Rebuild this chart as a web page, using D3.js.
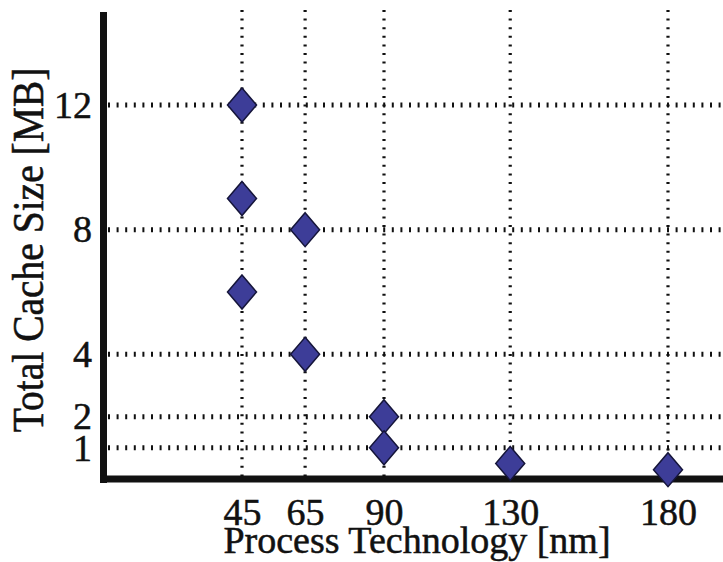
<!DOCTYPE html>
<html><head><meta charset="utf-8">
<script src="https://cdn.jsdelivr.net/npm/d3@7"></script>
<style>html,body{margin:0;padding:0;background:#fff;}svg{display:block;}</style>
</head><body>
<svg id="chart" width="723" height="562"></svg>
<script>
const processNm = [45, 45, 45, 65, 65, 90, 90, 130, 180];
const cacheMB   = [12, 9, 6, 8, 4, 2, 1, 0.5, 0.3];
const xTicks = [45, 65, 90, 130, 180];
const yTicks = [1, 2, 4, 8, 12];
const xTitle = "Process Technology [nm]";
const yTitle = "Total Cache Size [MB]";

const svg = d3.select("#chart");
const W = 723, H = 562;
const x = d3.scaleLinear().domain([0, 180]).range([100, 668]);
const y = d3.scaleLinear().domain([0, 12]).range([479, 105]);
const font = "'Liberation Serif','Times New Roman',serif";

// grid lines
svg.append("g").selectAll("line").data(xTicks).join("line")
  .attr("x1", d => x(d)).attr("x2", d => x(d))
  .attr("y1", 10).attr("y2", 476)
  .attr("stroke", "#111").attr("stroke-width", 3.2)
  .attr("stroke-dasharray", "2,6.6");
svg.append("g").selectAll("line").data(yTicks).join("line")
  .attr("x1", 108).attr("x2", W)
  .attr("y1", d => y(d)).attr("y2", d => y(d))
  .attr("stroke", "#111").attr("stroke-width", 5)
  .attr("stroke-dasharray", "2,6.6");

// axes
const xAxis = d3.axisBottom(x).tickValues(xTicks).tickSize(0).tickPadding(19);
const gx = svg.append("g").attr("transform", `translate(0,${y(0)})`).call(xAxis);
gx.select(".domain").remove();
gx.selectAll("text").attr("font-family", font).attr("font-size", 38)
  .attr("fill", "#111").attr("stroke", "#111").attr("stroke-width", 0.5);

const yAxis = d3.axisLeft(y).tickValues(yTicks).tickSize(0).tickPadding(8);
const gy = svg.append("g").attr("transform", `translate(${x(0)},0)`).call(yAxis);
gy.select(".domain").remove();
gy.selectAll("text").attr("font-family", font).attr("font-size", 38)
  .attr("fill", "#111").attr("stroke", "#111").attr("stroke-width", 0.5);

svg.append("line").attr("x1", 103.5).attr("x2", 103.5).attr("y1", 12).attr("y2", 483)
  .attr("stroke", "#111").attr("stroke-width", 7);
svg.append("line").attr("x1", 100).attr("x2", W).attr("y1", 479).attr("y2", 479)
  .attr("stroke", "#111").attr("stroke-width", 7);

// diamonds
const diamond = {
  draw(ctx, size) {
    const hw = 14.5, hh = 17;
    ctx.moveTo(0, -hh); ctx.lineTo(hw, 0); ctx.lineTo(0, hh); ctx.lineTo(-hw, 0); ctx.closePath();
  }
};
const pts = processNm.map((p, i) => ({p, c: cacheMB[i]}));
svg.append("g").selectAll("path").data(pts).join("path")
  .attr("d", d3.symbol().type(diamond))
  .attr("transform", d => `translate(${x(d.p)},${y(d.c)})`)
  .attr("fill", "#3d3d98").attr("stroke", "#15153a").attr("stroke-width", 1.5);

// titles
svg.append("text").attr("x", 417).attr("y", 553).attr("text-anchor", "middle")
  .attr("font-family", font).attr("font-size", 38).attr("fill", "#111")
  .attr("stroke", "#111").attr("stroke-width", 0.5).text(xTitle);
svg.append("text").attr("transform", "translate(43,250) rotate(-90) scale(1,1.12)").attr("text-anchor", "middle")
  .attr("font-family", font).attr("font-size", 39.5).attr("fill", "#111")
  .attr("stroke", "#111").attr("stroke-width", 0.5).text(yTitle);
</script>
</body></html>
